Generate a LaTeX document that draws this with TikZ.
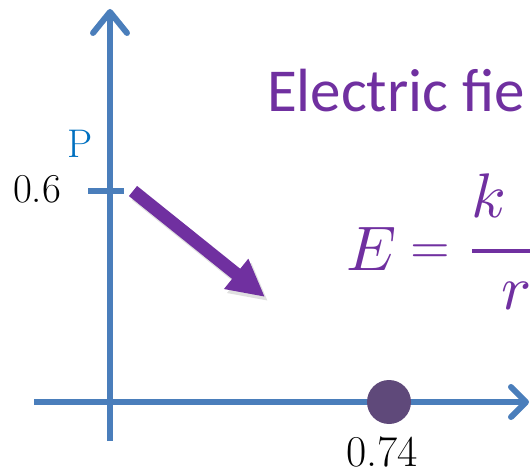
\documentclass[tikz,border=0pt]{standalone}
\usepackage{fontspec}
\usepackage{graphicx}
\newfontfamily\calib{Carlito}
\usetikzlibrary{arrows.meta}
\definecolor{axisblue}{HTML}{4A7EBB}
\definecolor{epurple}{HTML}{7030A0}
\definecolor{pblue}{HTML}{0070C0}
\definecolor{dotpurple}{HTML}{5F497A}
\tikzset{
  axisline/.style={draw=axisblue, line width=6pt},
  chevron/.style={draw=axisblue, line width=6pt, line cap=round, line join=round},
  lbl/.style={inner sep=0pt, outer sep=0pt},
  mathlbl/.style={inner sep=0pt, outer sep=0pt, anchor=base west, text=epurple},
  bigarrow/.style={draw=epurple, line width=13pt, -{Triangle[length=37pt,width=36pt]}},
}
\begin{document}
\begin{tikzpicture}[x=1pt,y=-1pt]
\useasboundingbox (0,0) rectangle (530,473);
\clip (0,0) rectangle (530,473);
% axes
\coordinate (ybot) at (110,441);
\coordinate (ytop) at (110,13);
\coordinate (xl) at (34,402);
\coordinate (xr) at (525,402);
\draw[axisline] (ybot) -- (ytop);
\draw[axisline] (xl) -- (xr);
\coordinate (ya1) at (93,33);
\coordinate (yap) at (110,12);
\coordinate (ya2) at (127,33);
\draw[chevron] (ya1) -- (yap) -- (ya2);
\coordinate (xa1) at (511,387);
\coordinate (xap) at (526,402);
\coordinate (xa2) at (511,417);
\draw[chevron] (xa1) -- (xap) -- (xa2);
% tick
\coordinate (t1) at (88,191);
\coordinate (t2) at (124,191);
\draw[axisline] (t1) -- (t2);
% labels
\node[lbl, text=pblue, font=\fontsize{40}{44}\selectfont] (P) at (80,143.5) {P};
\node[lbl, font=\fontsize{41}{46}\selectfont] (y06) at (37,189) {0.6};
\node[lbl, font=\fontsize{44}{50}\selectfont] (x074) at (382,452) {0.74};
% charge
\node[circle, fill=dotpurple, minimum size=44pt, inner sep=0pt] (q) at (389,402) {};
% field arrow with shadow
\coordinate (as) at (133,191);
\coordinate (at) at (265,297);
\coordinate (ass) at (136,195);
\coordinate (ats) at (268,301);
\draw[bigarrow, draw=black, fill=black, opacity=0.12] (ass) -- (ats);
\draw[bigarrow, fill=epurple] (as) -- (at);
% title
\node[lbl, anchor=base west, text=epurple, font=\calib\fontsize{61}{70}\selectfont] (title) at (267,112) {Electric fie};
% formula
\node[mathlbl] (E) at (346,270) {\scalebox{6.3}{$E$}};
\node[mathlbl, anchor=base] (eq) at (430,263) {\scalebox{5.1}{$=$}};
\node[mathlbl] (k) at (471,218) {\scalebox{6.3}{$k$}};
\node[mathlbl] (r) at (501,309) {\scalebox{6.3}{$r$}};
\coordinate (b1) at (472,251);
\coordinate (b2) at (532,251);
\draw[epurple, line width=4pt] (b1) -- (b2);
\end{tikzpicture}
\end{document}
